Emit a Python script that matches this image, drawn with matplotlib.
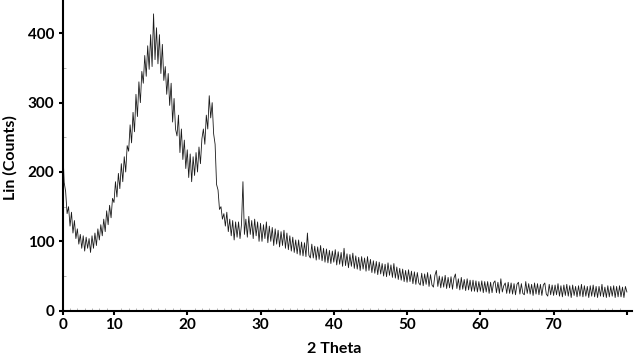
import numpy as np
import matplotlib.pyplot as plt
from matplotlib.ticker import MultipleLocator

# XRD pattern, counts every 0.2 deg (3 -> 80)
counts = [
    238, 185, 172, 140, 150,  122, 142, 112, 130, 104,  118, 96, 110, 90, 108,
    86, 106, 90, 104, 84,  108, 90, 112, 94, 118,  102, 124, 108, 132, 114,
    144, 124, 152, 134, 162,  156, 186, 164, 198, 176,  212, 186, 222, 200, 238,
    230, 268, 242, 286, 258,  312, 280, 330, 300, 345,  328, 368, 338, 382, 348,
    398, 352, 428, 362, 408,  356, 398, 342, 384, 332,  352, 312, 342, 296, 328,
    272, 306, 262, 252, 282,  228, 262, 218, 246, 205,  232, 192, 226, 186, 222,
    195, 228, 200, 236, 212,  248, 262, 240, 282, 262,  310, 278, 300, 255, 240,
    182, 174, 146, 150, 132,  140, 122, 142, 114, 132,  108, 130, 102, 128, 106,
    128, 104, 124, 186, 110,  132, 106, 136, 110, 130,  104, 132, 108, 128, 100,
    126, 100, 124, 104, 128,  98, 122, 100, 120, 94,  118, 96, 116, 92, 114,
    94, 116, 90, 112, 88,  108, 86, 106, 84, 102,  82, 102, 80, 99, 79,
    98, 78, 112, 80, 76,  96, 76, 93, 73, 92,  74, 94, 72, 90, 70,
    89, 69, 87, 68, 86,  70, 88, 66, 85, 67,  84, 64, 90, 65, 82,
    62, 81, 64, 83, 61,  79, 60, 77, 58, 78,  60, 76, 57, 78, 58,
    74, 55, 72, 54, 71,  52, 70, 53, 68, 50,  67, 49, 69, 51, 66,
    48, 68, 47, 63, 45,  61, 44, 60, 42, 58,  41, 59, 42, 57, 39,
    56, 38, 55, 40, 37,  54, 36, 53, 38, 55,  35, 52, 37, 34, 51,
    58, 35, 50, 33, 49,  34, 51, 32, 48, 33,  49, 31, 47, 53, 32,
    46, 30, 48, 31, 45,  29, 46, 30, 44, 28,  44, 28, 43, 27, 42,
    28, 43, 26, 42, 27,  42, 25, 41, 26, 40,  43, 26, 41, 25, 46,
    27, 36, 40, 25, 41,  25, 40, 24, 39, 23,  38, 41, 24, 39, 25,
    23, 42, 25, 39, 24,  38, 22, 40, 24, 39,  23, 38, 22, 37, 40,
    24, 21, 38, 23, 37,  22, 37, 23, 39, 21,  36, 20, 37, 22, 38,
    21, 36, 19, 37, 22,  35, 20, 36, 21, 38,  20, 36, 21, 35, 19,
    36, 21, 37, 20, 35,  19, 35, 21, 38, 20,  34, 19, 36, 20, 35,
    21, 36, 19, 35, 20,  36, 20, 34, 19, 35,  27,
]
two_theta = np.linspace(3, 80, len(counts))

xticks = [3, 10, 20, 30, 40, 50, 60, 70, 80]
xticklabels = ['0', '10', '20', '30', '40', '50', '60', '70', '']
yticks = [0, 100, 200, 300, 400]

plt.rcParams['font.family'] = 'Lato'
plt.rcParams['font.weight'] = 'bold'

fig = plt.figure(figsize=(6.38, 3.56), dpi=100)
ax = fig.add_axes([62.7/638, 1 - 310.7/356, (632 - 62.7)/638, 310.7/356])

ax.plot(two_theta, counts, color='#1a1a1a', lw=0.6)

ax.set_xlim(3, 80.7)
ax.set_ylim(0, 448)
ax.set_xticks(xticks)
ax.set_xticklabels(xticklabels)
ax.set_yticks(yticks)
ax.xaxis.set_minor_locator(MultipleLocator(1))
ax.yaxis.set_minor_locator(MultipleLocator(50))

for s in ['top', 'right']:
    ax.spines[s].set_visible(False)
for s in ['left', 'bottom']:
    ax.spines[s].set_linewidth(1.5)

ax.tick_params(which='major', direction='out', length=3, width=1.5, labelsize=11, pad=2)
ax.tick_params(axis='y', which='major', pad=3)
ax.tick_params(which='minor', direction='in', length=2, width=0.6, color='#aaaaaa')

fig.text(334/638, 1 - 349/356, '2 Theta', ha='center', va='center', fontsize=11.5, fontweight='bold')
fig.text(10/638, 1 - 158/356, 'Lin (Counts)', ha='center', va='center', rotation=90,
         fontsize=11.5, fontweight='bold')

fig.savefig('out.png', dpi=100)
